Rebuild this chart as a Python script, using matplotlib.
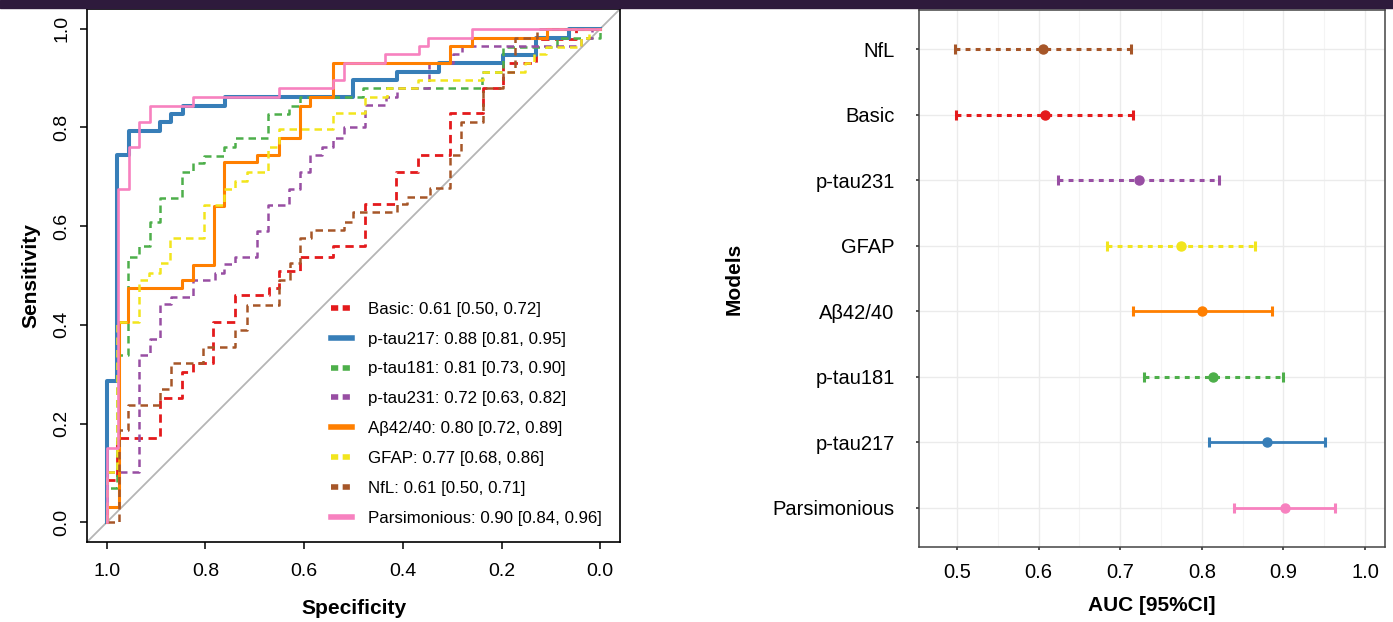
import matplotlib
matplotlib.use("Agg")
import matplotlib.pyplot as plt
from matplotlib.lines import Line2D
from matplotlib.patches import Rectangle

plt.rcParams['font.family'] = ['Liberation Sans', 'DejaVu Sans']

# ///---- datos ROC (especificidad, sensibilidad) ----///
spec_basic = [1.0, 0.98, 0.892, 0.848, 0.826, 0.785, 0.74, 0.671, 0.651, 0.609, 0.542,
              0.477, 0.414, 0.369, 0.304, 0.237, 0.197, 0.13, 0.05, 0.0]
sens_basic = [0.0, 0.085, 0.17, 0.251, 0.304, 0.322, 0.405, 0.46, 0.474, 0.51, 0.538,
              0.559, 0.644, 0.71, 0.745, 0.83, 0.879, 0.93, 0.98, 1.0]

spec_ptau217 = [1.0, 0.98, 0.955, 0.892, 0.87, 0.846, 0.761, 0.501, 0.412, 0.327, 0.197, 0.13, 0.063, 0.0]
sens_ptau217 = [0.0, 0.287, 0.745, 0.793, 0.812, 0.828, 0.844, 0.862, 0.897, 0.913, 0.931, 0.947, 0.982, 1.0]

spec_ptau181 = [1.0, 0.98, 0.957, 0.935, 0.913, 0.892, 0.848, 0.826, 0.803, 0.763, 0.74, 0.673,
                0.631, 0.609, 0.481, 0.24, 0.197, 0.087, 0.0, 0.0]
sens_ptau181 = [0.0, 0.069, 0.338, 0.538, 0.559, 0.609, 0.658, 0.709, 0.727, 0.743, 0.761, 0.779,
                0.828, 0.844, 0.862, 0.879, 0.913, 0.964, 0.982, 1.0]

spec_ptau231 = [1.0, 0.935, 0.913, 0.892, 0.87, 0.826, 0.781, 0.763, 0.74, 0.696, 0.673, 0.631, 0.609,
                0.588, 0.564, 0.542, 0.519, 0.477, 0.434, 0.412, 0.347, 0.298, 0.28, 0.04, 0.016, 0.0]
sens_ptau231 = [0.0, 0.101, 0.338, 0.372, 0.443, 0.457, 0.49, 0.506, 0.524, 0.538, 0.591, 0.642, 0.676,
                0.71, 0.745, 0.761, 0.779, 0.8, 0.846, 0.862, 0.879, 0.93, 0.949, 0.966, 0.982, 1.0]

spec_abeta = [1.0, 0.976, 0.957, 0.848, 0.826, 0.783, 0.763, 0.696, 0.651, 0.609, 0.588, 0.542,
              0.304, 0.26, 0.107, 0.0]
sens_abeta = [0.0, 0.03, 0.405, 0.474, 0.49, 0.522, 0.64, 0.729, 0.745, 0.779, 0.844, 0.862,
              0.931, 0.966, 0.982, 1.0]

spec_gfap = [1.0, 0.98, 0.935, 0.915, 0.892, 0.872, 0.803, 0.763, 0.74, 0.716, 0.673, 0.651, 0.542,
             0.477, 0.432, 0.369, 0.237, 0.152, 0.134, 0.11, 0.04, 0.022, 0.0]
sens_gfap = [0.0, 0.101, 0.405, 0.49, 0.506, 0.526, 0.575, 0.642, 0.676, 0.692, 0.71, 0.761, 0.796,
             0.83, 0.862, 0.879, 0.897, 0.913, 0.931, 0.949, 0.964, 0.982, 1.0]

spec_nfl = [1.0, 0.976, 0.957, 0.892, 0.87, 0.805, 0.74, 0.716, 0.651, 0.629, 0.609, 0.587, 0.519,
            0.501, 0.412, 0.391, 0.345, 0.304, 0.282, 0.237, 0.197, 0.172, 0.128, 0.0]
sens_nfl = [0.0, 0.0, 0.186, 0.237, 0.271, 0.322, 0.355, 0.389, 0.44, 0.49, 0.526, 0.575, 0.593,
            0.609, 0.628, 0.644, 0.66, 0.678, 0.745, 0.812, 0.879, 0.913, 0.982, 1.0]

spec_pars = [1.0, 0.978, 0.955, 0.935, 0.913, 0.826, 0.651, 0.542, 0.519, 0.436, 0.367, 0.349, 0.26, 0.0]
sens_pars = [0.0, 0.15, 0.676, 0.761, 0.812, 0.844, 0.862, 0.879, 0.897, 0.931, 0.949, 0.966, 0.982, 1.0]

# ///---- modelos, AUC e IC 95% ----///
modelos = ['Basic', 'p-tau217', 'p-tau181', 'p-tau231', 'A\u03b242/40', 'GFAP', 'NfL', 'Parsimonious']
colores = ['#E41A1C', '#377EB8', '#4DAF4A', '#984EA3', '#FF7F00', '#F2E51D', '#A65628', '#F781BF']
punteada = [True, False, True, True, False, True, True, False]
auc = [0.608, 0.880, 0.814, 0.723, 0.800, 0.775, 0.605, 0.902]
ic_inf = [0.499, 0.809, 0.729, 0.624, 0.716, 0.684, 0.497, 0.840]
ic_sup = [0.716, 0.951, 0.900, 0.821, 0.886, 0.865, 0.713, 0.963]
etiquetas = ['Basic: 0.61 [0.50, 0.72]', 'p-tau217: 0.88 [0.81, 0.95]', 'p-tau181: 0.81 [0.73, 0.90]',
             'p-tau231: 0.72 [0.63, 0.82]', 'A\u03b242/40: 0.80 [0.72, 0.89]', 'GFAP: 0.77 [0.68, 0.86]',
             'NfL: 0.61 [0.50, 0.71]', 'Parsimonious: 0.90 [0.84, 0.96]']
# orden de abajo hacia arriba en el forest plot
orden_forest = ['Parsimonious', 'p-tau217', 'p-tau181', 'A\u03b242/40', 'GFAP', 'p-tau231', 'Basic', 'NfL']

curvas = [(spec_basic, sens_basic), (spec_ptau217, sens_ptau217), (spec_ptau181, sens_ptau181),
          (spec_ptau231, sens_ptau231), (spec_abeta, sens_abeta), (spec_gfap, sens_gfap),
          (spec_nfl, sens_nfl), (spec_pars, sens_pars)]
grosor = [2.0, 2.9, 1.8, 1.8, 2.2, 1.8, 1.8, 1.9]

fig = plt.figure(figsize=(13.93, 6.22), dpi=100)
fig.patches.append(Rectangle((0, 1 - 8 / 622), 1, 8 / 622, transform=fig.transFigure,
                             color='#2e1a3c', zorder=0))

# ///---- panel ROC ----///
ax1 = fig.add_axes([87 / 1393, 80 / 622, 533 / 1393, 533 / 622])
ax1.axline((1, 0), (0, 1), color='#b5b5b5', lw=1.3, zorder=1)
for (sp, se), col, dash, lw in zip(curvas, colores, punteada, grosor):
    if dash:
        ax1.plot(sp, se, drawstyle='steps-pre', color=col, lw=lw, dashes=(3, 2))
    else:
        ax1.plot(sp, se, drawstyle='steps-pre', color=col, lw=lw)
ax1.set_xlim(1.04, -0.04)
ax1.set_ylim(-0.04, 1.04)
ticks = [0.0, 0.2, 0.4, 0.6, 0.8, 1.0]
ax1.set_xticks(ticks)
ax1.set_yticks(ticks)
ax1.set_xticklabels(['%.1f' % t for t in ticks])
ax1.set_yticklabels(['%.1f' % t for t in ticks], rotation=90, va='center')
ax1.tick_params(axis='both', labelsize=14, length=5, width=1.1, colors='black')
ax1.tick_params(axis='x', pad=10)
ax1.tick_params(axis='y', pad=7)
for s in ax1.spines.values():
    s.set_linewidth(1.2)
ax1.set_xlabel('Specificity', fontsize=15, fontweight='bold', labelpad=14)
ax1.set_ylabel('Sensitivity', fontsize=15, fontweight='bold', labelpad=9)

manijas = []
for col, dash in zip(colores, punteada):
    if dash:
        manijas.append(Line2D([0], [0], color=col, lw=4, dashes=(1.3, 0.8)))
    else:
        manijas.append(Line2D([0], [0], color=col, lw=4))
ax1.legend(manijas, etiquetas, loc='lower left', bbox_to_anchor=(0.457, 0.03), frameon=False,
           fontsize=12.2, handlelength=1.25, handletextpad=0.95, labelspacing=0.88,
           borderaxespad=0, borderpad=0)

# ///---- panel AUC ----///
ax2 = fig.add_axes([919 / 1393, 75 / 622, 466 / 1393, 537 / 622])
ax2.set_xlim(0.4534, 1.0245)
ax2.set_ylim(0.4, 8.6)
ax2.set_xticks([0.5, 0.6, 0.7, 0.8, 0.9, 1.0])
ax2.set_xticks([0.55, 0.65, 0.75, 0.85, 0.95], minor=True)
ax2.set_yticks(range(1, len(orden_forest) + 1))
ax2.set_yticklabels(orden_forest)
ax2.grid(True, which='major', color='#ebebeb', lw=1.0)
ax2.grid(True, which='minor', axis='x', color='#f4f4f4', lw=0.8)
ax2.set_axisbelow(True)
ax2.tick_params(axis='both', which='major', labelsize=14.5, length=2.5, width=1.2, colors='#333333')
ax2.tick_params(axis='both', labelcolor='black')
ax2.tick_params(axis='y', pad=15)
ax2.tick_params(axis='x', pad=9)
ax2.tick_params(which='minor', length=0)
for s in ax2.spines.values():
    s.set_color('#444444')
    s.set_linewidth(1.1)

for nombre, col, dash, a, lo, hi in zip(modelos, colores, punteada, auc, ic_inf, ic_sup):
    y = orden_forest.index(nombre) + 1
    if dash:
        ax2.plot([lo, hi], [y, y], color=col, lw=2.2, dashes=(1.6, 1.7))
    else:
        ax2.plot([lo, hi], [y, y], color=col, lw=2.0)
    ax2.plot([lo, hi], [y, y], ls='none', marker='|', ms=6.5, mew=2.2, color=col)
    ax2.plot([a], [y], 'o', ms=6.5, color=col)

ax2.set_xlabel('AUC [95%CI]', fontsize=15, fontweight='bold', labelpad=10)
ax2.set_ylabel('Models', fontsize=15, fontweight='bold', labelpad=21)

fig.savefig('out.png', dpi=100)
